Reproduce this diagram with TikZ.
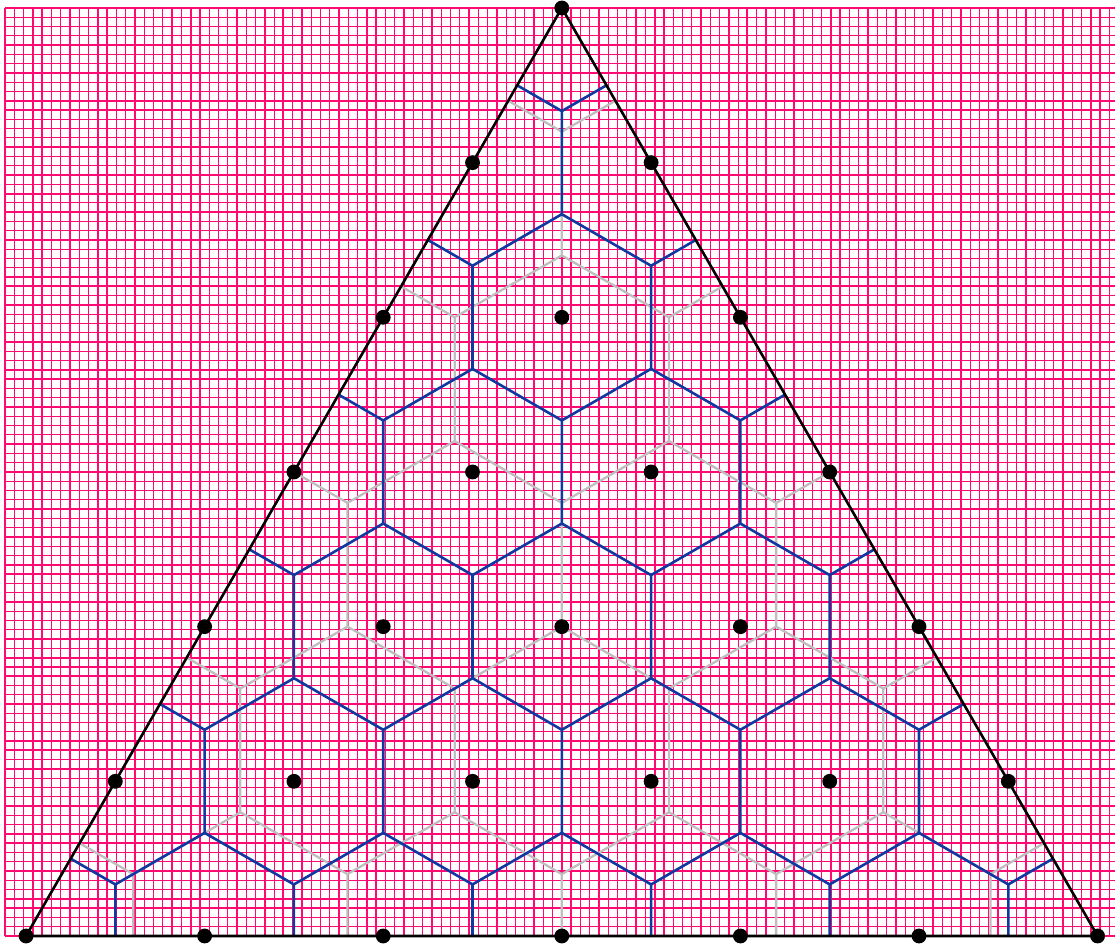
\documentclass[tikz,border=0pt]{standalone}
\usepackage{tikz}
\definecolor{gridpink}{RGB}{255,10,115}
\definecolor{vorblue}{RGB}{16,56,160}
\definecolor{vorgray}{RGB}{190,190,190}
\tikzset{
  minorgrid/.style={draw=gridpink, line width=0.4pt},
  majorgrid/.style={draw=gridpink, line width=0.65pt},
  bluecell/.style={draw=vorblue, line width=0.8pt},
  graycell/.style={draw=vorgray, line width=0.7pt},
  trianglesides/.style={draw=black, line width=0.8pt, line join=round},
  latticedot/.style={fill=black}
}
\newcommand\vorcells[2]{%
  \pgfmathsetmacro\vorS{20/(sqrt(3)*#1)}%
  \pgfmathsetmacro\vorH{10/#1}%
  \pgfmathsetmacro\vorR{20/(3*#1)}%
  \pgfmathtruncatemacro\vorMax{#1-1}%
  \foreach \j in {0,...,\vorMax} {%
    \pgfmathtruncatemacro\vorImax{#1-1-\j}%
    \foreach \i in {0,...,\vorImax} {%
      \pgfmathsetmacro\ux{6-10/sqrt(3)+\vorS*(\i+1/3)+\vorS/2*(\j+1/3)}%
      \pgfmathsetmacro\uy{\vorH*(\j+1/3)}%
      \draw[#2] (\ux,\uy) ++(270:\vorR) -- (\ux,\uy) -- ++(150:\vorR) (\ux,\uy) -- ++(30:\vorR);
    }%
  }%
}
\begin{document}
\begin{tikzpicture}
\useasboundingbox (-0.054,-0.086) rectangle (11.961,10.086);
% graph paper
\draw[minorgrid] (0,0) grid[step=0.1] (12.2,10);
\draw[majorgrid] (0,0) grid[step=1] (12.2,10);
% triangle corners
\coordinate (A) at ({6-10/sqrt(3)},0);
\coordinate (B) at ({6+10/sqrt(3)},0);
\coordinate (C) at (6,10);
% Voronoi cells clipped to the triangle
\begin{scope}
  \clip (A) -- (B) -- (C) -- cycle;
  \vorcells{5}{graycell}
  \vorcells{6}{bluecell}
\end{scope}
\draw[trianglesides] (A) -- (B) -- (C) -- cycle;
% lattice points
\pgfmathsetmacro\latS{20/(6*sqrt(3))}
\foreach \j in {0,...,6} {
  \pgfmathtruncatemacro\latImax{6-\j}
  \foreach \i in {0,...,\latImax} {
    \pgfmathsetmacro\px{6-10/sqrt(3)+\latS*\i+\latS/2*\j}
    \pgfmathsetmacro\py{10/6*\j}
    \fill[latticedot] (\px,\py) circle (0.08);
  }
}
\end{tikzpicture}
\end{document}
